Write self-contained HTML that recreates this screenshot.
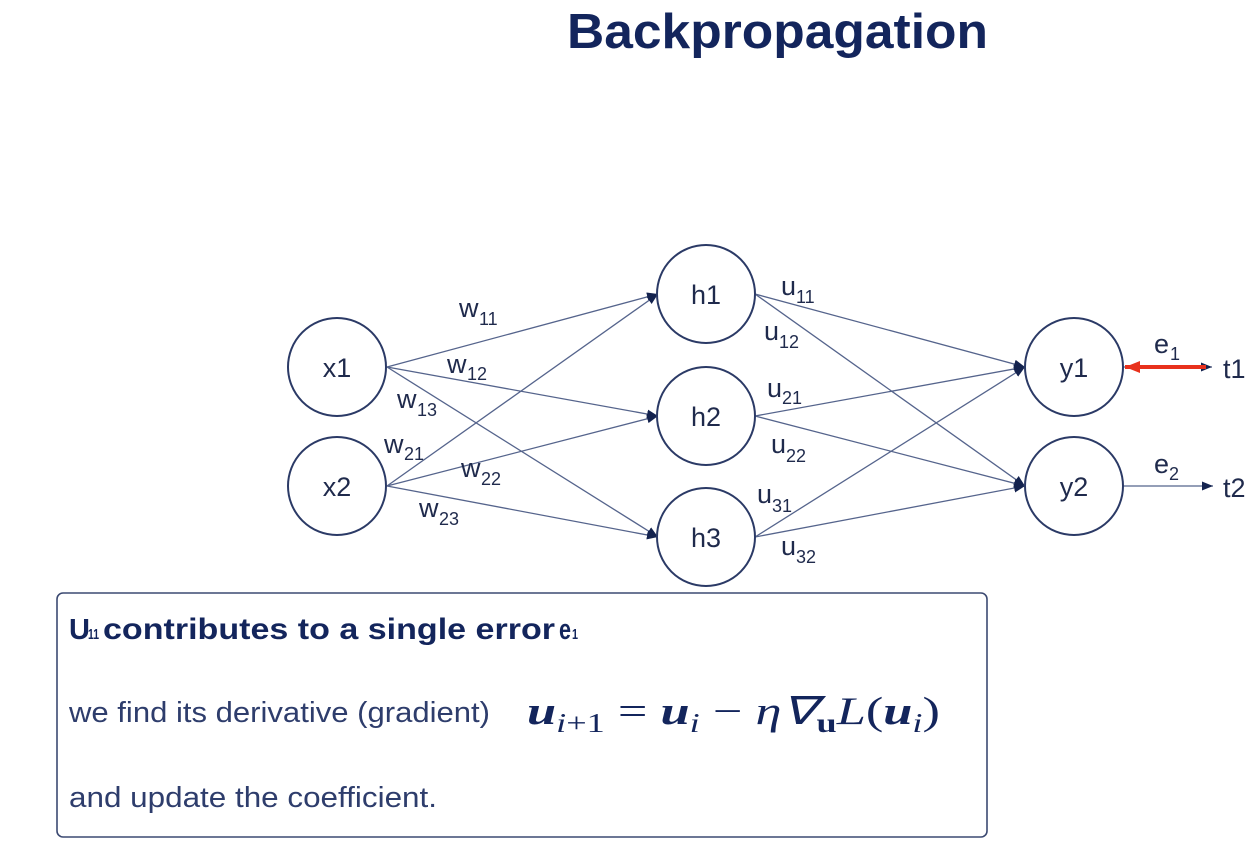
<!DOCTYPE html>
<html><head><meta charset="utf-8"><style>
html,body{margin:0;padding:0;background:#fff;}
svg{display:block;}
</style></head><body>
<svg width="1254" height="849" viewBox="0 0 1254 849" xmlns="http://www.w3.org/2000/svg">
<defs>
<marker id="ah" markerUnits="userSpaceOnUse" markerWidth="11" markerHeight="9" refX="11" refY="4.5" orient="auto">
<path d="M0,0 L11,4.5 L0,9 z" fill="#14234f"/>
</marker>
<marker id="ahr" markerUnits="userSpaceOnUse" markerWidth="15" markerHeight="12" refX="15" refY="6" orient="auto">
<path d="M0,0 L15,6 L0,12 z" fill="#e8311c"/>
</marker>
</defs>
<rect width="1254" height="849" fill="#fff"/>

<!-- Title -->
<text x="567" y="48" font-family="Liberation Sans, sans-serif" font-weight="bold" font-size="49" fill="#13255c" textLength="421" lengthAdjust="spacingAndGlyphs">Backpropagation</text>

<!-- Edges -->
<g stroke="#55648c" stroke-width="1.3" fill="none" marker-end="url(#ah)">
<line x1="387" y1="367" x2="658" y2="294"/>
<line x1="387" y1="367" x2="658" y2="416"/>
<line x1="387" y1="367" x2="658" y2="537"/>
<line x1="387" y1="486" x2="658" y2="294"/>
<line x1="387" y1="486" x2="658" y2="416"/>
<line x1="387" y1="486" x2="658" y2="537"/>
<line x1="755" y1="294" x2="1025" y2="367"/>
<line x1="755" y1="294" x2="1025" y2="486"/>
<line x1="755" y1="416" x2="1025" y2="367"/>
<line x1="755" y1="416" x2="1025" y2="486"/>
<line x1="755" y1="537" x2="1025" y2="367"/>
<line x1="755" y1="537" x2="1025" y2="486"/>
<line x1="1123" y1="486" x2="1213" y2="486"/>
<line x1="1123" y1="367" x2="1212" y2="367"/>
</g>
<!-- red arrow -->
<line x1="1206" y1="367" x2="1125" y2="367" stroke="#e8311c" stroke-width="4" marker-end="url(#ahr)"/>

<!-- Nodes -->
<g stroke="#2b3a66" stroke-width="2" fill="#fff">
<circle cx="337" cy="367" r="49"/>
<circle cx="337" cy="486" r="49"/>
<circle cx="706" cy="294" r="49"/>
<circle cx="706" cy="416" r="49"/>
<circle cx="706" cy="537" r="49"/>
<circle cx="1074" cy="367" r="49"/>
<circle cx="1074" cy="486" r="49"/>
</g>
<g font-family="Liberation Sans, sans-serif" font-size="27" fill="#1f2a4c" text-anchor="middle">
<text x="337" y="377">x1</text>
<text x="337" y="496">x2</text>
<text x="706" y="304">h1</text>
<text x="706" y="426">h2</text>
<text x="706" y="547">h3</text>
<text x="1074" y="377">y1</text>
<text x="1074" y="496">y2</text>
</g>
<g font-family="Liberation Sans, sans-serif" font-size="27" fill="#1f2a4c">
<text x="1223" y="378">t1</text>
<text x="1223" y="497">t2</text>
</g>

<!-- Edge labels -->
<g font-family="Liberation Sans, sans-serif" fill="#1f2a4c">
<g font-size="27">
<text x="459" y="317">w</text>
<text x="447" y="373">w</text>
<text x="397" y="408">w</text>
<text x="384" y="453">w</text>
<text x="461" y="477">w</text>
<text x="419" y="517">w</text>
<text x="781" y="295">u</text>
<text x="764" y="340">u</text>
<text x="767" y="397">u</text>
<text x="771" y="453">u</text>
<text x="757" y="503">u</text>
<text x="781" y="555">u</text>
<text x="1154" y="353">e</text>
<text x="1154" y="473">e</text>
</g>
<g font-size="18">
<text x="479" y="325">11</text>
<text x="467" y="380">12</text>
<text x="417" y="416">13</text>
<text x="404" y="460">21</text>
<text x="481" y="485">22</text>
<text x="439" y="525">23</text>
<text x="796" y="303">11</text>
<text x="779" y="348">12</text>
<text x="782" y="404">21</text>
<text x="786" y="462">22</text>
<text x="772" y="512">31</text>
<text x="796" y="563">32</text>
<text x="1170" y="360">1</text>
<text x="1169" y="480">2</text>
</g>
</g>

<!-- Box -->
<rect x="57" y="593" width="930" height="244" rx="6" ry="6" fill="#fff" stroke="#3c4a72" stroke-width="1.6"/>

<g font-family="Liberation Sans, sans-serif" font-weight="bold" fill="#13255c">
<text x="69" y="639" font-size="29">U</text>
<text x="88" y="639" font-size="15" textLength="11" lengthAdjust="spacingAndGlyphs">11</text>
<text x="103" y="639" font-size="30" textLength="452" lengthAdjust="spacingAndGlyphs">contributes to a single error</text>
<text x="559" y="639" font-size="29" textLength="12" lengthAdjust="spacingAndGlyphs">e</text>
<text x="572" y="639" font-size="15" textLength="6" lengthAdjust="spacingAndGlyphs">1</text>
</g>

<text x="69" y="722" font-family="Liberation Sans, sans-serif" font-size="29" fill="#2e3d6c" textLength="421" lengthAdjust="spacingAndGlyphs">we find its derivative (gradient)</text>

<text x="527" y="724" font-family="Liberation Serif, serif" font-size="39" fill="#13255c" textLength="413" lengthAdjust="spacingAndGlyphs"><tspan font-weight="bold" font-style="italic">u</tspan><tspan font-style="italic" font-size="27" dy="8">i</tspan><tspan font-size="27">+1</tspan><tspan dy="-8"> = </tspan><tspan font-weight="bold" font-style="italic">u</tspan><tspan font-style="italic" font-size="27" dy="8">i</tspan><tspan dy="-8"> − </tspan><tspan font-style="italic">η∇</tspan><tspan font-weight="bold" font-size="27" dy="8">u</tspan><tspan font-style="italic" dy="-8">L</tspan><tspan>(</tspan><tspan font-weight="bold" font-style="italic">u</tspan><tspan font-style="italic" font-size="27" dy="8">i</tspan><tspan dy="-8">)</tspan></text>

<text x="69" y="807" font-family="Liberation Sans, sans-serif" font-size="29" fill="#2e3d6c" textLength="368" lengthAdjust="spacingAndGlyphs">and update the coefficient.</text>
</svg>
</body></html>
